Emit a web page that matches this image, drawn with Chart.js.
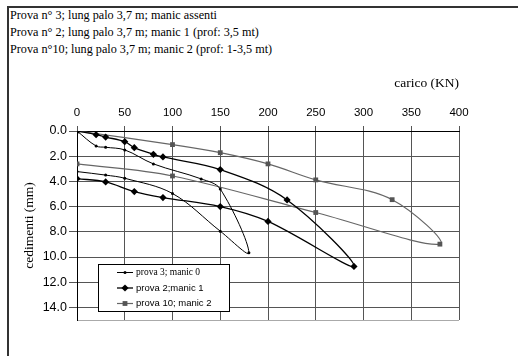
<!DOCTYPE html>
<html>
<head>
<meta charset="utf-8">
<script src="https://cdn.jsdelivr.net/npm/chart.js@4.4.1/dist/chart.umd.min.js"></script>
<style>
    html, body { margin: 0; padding: 0; background: #fff; }
    #wrap { position: relative; width: 518px; height: 356px; overflow: hidden; }
    #frame { position: absolute; left: 7px; top: 6px; right: -4px; bottom: -4px; border-top: 2px solid #333; border-left: 2px solid #333; }
    #header { position: absolute; left: 10px; top: 7px; font: 12.2px "Liberation Serif", "Times New Roman", serif; line-height: 17px; color: #000; white-space: nowrap; }
    canvas { position: absolute; left: 0; top: 0; }
</style>
</head>
<body>
<div id="wrap">
    <div id="frame"></div>
    <div id="header"></div>
    <canvas id="chart" width="518" height="356"></canvas>
</div>
<script>
const headerLines = [
    'Prova n° 3; lung palo 3,7 m; manic assenti',
    'Prova n° 2; lung palo 3,7 m; manic 1 (prof: 3,5 mt)',
    'Prova n°10; lung palo 3,7 m; manic 2 (prof: 1-3,5 mt)'
];
const seriesLabels = ['prova 3; manic 0', 'prova 2;manic 1', 'prova 10; manic 2'];

// carico (KN) / cedimenti (mm), loading then unloading
const carico1 = [0, 20, 30, 50, 80, 130, 150, 180, 150, 100, 50, 30, 0];
const cedimenti1 = [0, 1.19, 1.29, 1.5, 2.61, 3.8, 4.6, 9.67, 7.95, 4.96, 3.75, 3.5, 3.22];

const carico2 = [0, 20, 30, 50, 60, 80, 90, 150, 220, 290, 200, 150, 90, 60, 30, 0];
const cedimenti2 = [0, 0.29, 0.48, 0.85, 1.32, 1.85, 2.06, 3.06, 5.47, 10.75, 7.18, 6.0, 5.28, 4.81, 4.04, 3.78];

const carico3 = [0, 100, 150, 200, 250, 330, 380, 250, 100, 0];
const cedimenti3 = [0, 1.08, 1.72, 2.61, 3.88, 5.45, 8.98, 6.47, 3.57, 2.61];

const xMax = 400;
const xStep = 50;
const yMax = 15;
const yStep = 2;

document.querySelector('#header').innerHTML = headerLines.join('<br>');

function toPoints(xs, ys) {
    return xs.map((x, i) => ({ x: x, y: ys[i] }));
}

const sans = '"Liberation Sans", Arial, sans-serif';
const serif = '"Liberation Serif", "Times New Roman", serif';
const legendFonts = ['9.5px ' + serif, '9.5px ' + sans, '9.5px ' + sans];

// Excel-style legend box sitting inside the plot
const legendBox = {
    id: 'legendBox',
    afterDraw(chart) {
        const ctx = chart.ctx;
        ctx.save();
        ctx.fillStyle = '#fff';
        ctx.strokeStyle = '#000';
        ctx.lineWidth = 1;
        ctx.fillRect(98.5, 264.5, 131, 47);
        ctx.strokeRect(98.5, 264.5, 131, 47);
        chart.data.datasets.forEach((ds, i) => {
            const y = 272.5 + i * 15.5;
            ctx.strokeStyle = ds.borderColor;
            ctx.lineWidth = ds.borderWidth;
            ctx.beginPath();
            ctx.moveTo(117, y);
            ctx.lineTo(133, y);
            ctx.stroke();
            ctx.fillStyle = ds.pointBackgroundColor;
            ctx.strokeStyle = ds.pointBorderColor;
            ctx.lineWidth = 0;
            Chart.helpers.drawPoint(ctx, { pointStyle: ds.pointStyle, radius: ds.pointRadius, rotation: 0, borderWidth: 0 }, 125, y);
            ctx.fillStyle = '#000';
            ctx.font = legendFonts[i];
            ctx.textBaseline = 'middle';
            ctx.textAlign = 'left';
            ctx.fillText(ds.label, 136, y);
        });
        ctx.restore();
    }
};

new Chart(document.getElementById('chart'), {
    type: 'line',
    data: {
        datasets: [
            {
                label: seriesLabels[0],
                data: toPoints(carico1, cedimenti1),
                borderColor: '#000',
                borderWidth: 1,
                pointStyle: 'circle',
                pointRadius: 1.5,
                pointBackgroundColor: '#000',
                pointBorderColor: '#000',
                pointBorderWidth: 0,
                tension: 0.35
            },
            {
                label: seriesLabels[1],
                data: toPoints(carico2, cedimenti2),
                borderColor: '#000',
                borderWidth: 1.3,
                pointStyle: 'rectRot',
                pointRadius: 3.6,
                pointBackgroundColor: '#000',
                pointBorderColor: '#000',
                pointBorderWidth: 0,
                tension: 0.35
            },
            {
                label: seriesLabels[2],
                data: toPoints(carico3, cedimenti3),
                borderColor: '#666',
                borderWidth: 1.2,
                pointStyle: 'rect',
                pointRadius: 3.4,
                pointBackgroundColor: '#555',
                pointBorderColor: '#555',
                pointBorderWidth: 0,
                tension: 0.35
            }
        ]
    },
    options: {
        responsive: false,
        animation: false,
        devicePixelRatio: 1,
        layout: {
            padding: { top: 0, left: 0, right: 59, bottom: 36 }
        },
        plugins: {
            legend: { display: false },
            tooltip: { enabled: false }
        },
        scales: {
            x: {
                type: 'linear',
                position: 'top',
                min: 0,
                max: xMax,
                afterFit: scale => { scale.height = 131; },
                ticks: {
                    stepSize: xStep,
                    autoSkip: false,
                    maxRotation: 0,
                    color: '#000',
                    padding: 6,
                    font: { family: sans, size: 11.5 }
                },
                grid: { color: '#555', lineWidth: 1, tickLength: 5, tickColor: '#555' },
                border: { color: '#000', width: 1 },
                title: {
                    display: true,
                    text: 'carico (KN)',
                    align: 'end',
                    color: '#000',
                    font: { family: serif, size: 13.5 },
                    padding: { top: 75 }
                }
            },
            y: {
                type: 'linear',
                reverse: true,
                min: 0,
                max: yMax,
                afterFit: scale => { scale.width = 77; },
                afterBuildTicks: scale => { scale.ticks.push({ value: yMax }); },
                ticks: {
                    stepSize: yStep,
                    includeBounds: false,
                    autoSkip: false,
                    color: '#000',
                    padding: 2,
                    font: { family: sans, size: 12.5 },
                    callback: value => value === yMax ? '' : value.toFixed(1)
                },
                grid: {
                    color: ctx => ctx.tick && ctx.tick.value === yMax ? '#aaa' : '#555',
                    tickColor: ctx => ctx.tick && ctx.tick.value === yMax ? 'rgba(0,0,0,0)' : '#555',
                    lineWidth: 1,
                    tickLength: 8
                },
                border: { color: '#000', width: 1 },
                title: {
                    display: true,
                    text: 'cedimenti (mm)',
                    color: '#000',
                    font: { family: serif, size: 13.5 },
                    padding: { top: 21 }
                }
            }
        }
    },
    plugins: [legendBox]
});
</script>
</body>
</html>
